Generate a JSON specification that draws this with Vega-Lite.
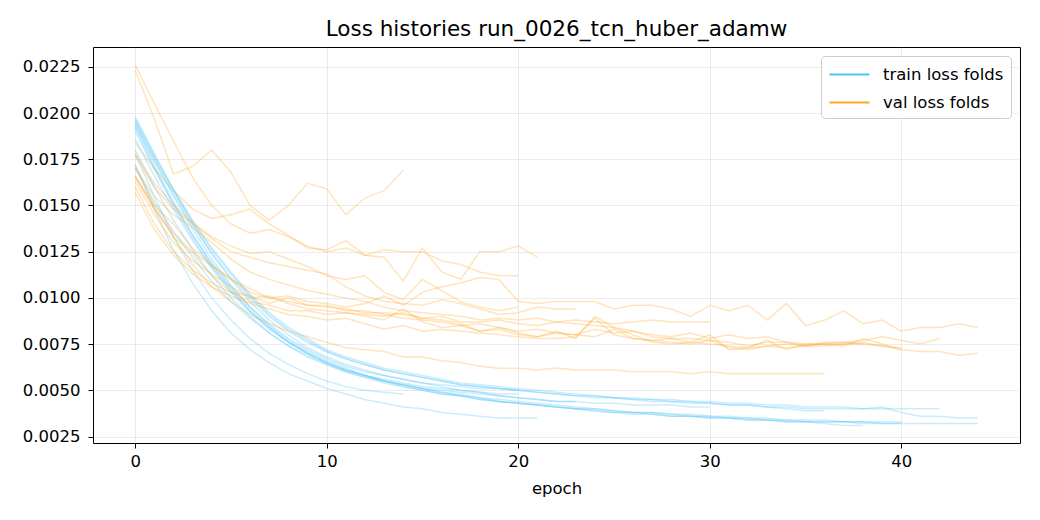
{
"$schema":"https://vega.github.io/schema/vega-lite/v6.json",
"width":927,"height":396,
"autosize":{"type":"none"},
"padding":{"left":93,"top":47,"right":20,"bottom":77},
"background":"white",
"title":{"text":"Loss histories run_0026_tcn_huber_adamw","font":"DejaVu Sans","fontSize":21.5,"fontWeight":"normal","color":"black","offset":7},
"config":{"view":{"stroke":"black","strokeWidth":1},
"axis":{"labelFont":"DejaVu Sans","labelFontSize":16.5,"labelColor":"black","tickColor":"black","tickSize":5,"tickWidth":1,"domain":false,"grid":true,"gridColor":"#b0b0b0","gridOpacity":0.3,"gridWidth":0.8,"titleFont":"DejaVu Sans","titleFontSize":16.5,"titleFontWeight":"normal","titleColor":"black"}},
"data":{"values":[
{"fold":1,"epoch":0,"train":0.0178,"val":0.0223},{"fold":1,"epoch":1,"train":0.0155,"val":0.0197},{"fold":1,"epoch":2,"train":0.0133,"val":0.0167},{"fold":1,"epoch":3,"train":0.0115,"val":0.0171},{"fold":1,"epoch":4,"train":0.0100,"val":0.0180},{"fold":1,"epoch":5,"train":0.0088,"val":0.0168},{"fold":1,"epoch":6,"train":0.0078,"val":0.0150},{"fold":1,"epoch":7,"train":0.0070,"val":0.0142},{"fold":1,"epoch":8,"train":0.0064,"val":0.0150},{"fold":1,"epoch":9,"train":0.0059,"val":0.0162},{"fold":1,"epoch":10,"train":0.0055,"val":0.0159},{"fold":1,"epoch":11,"train":0.0052,"val":0.0145},{"fold":1,"epoch":12,"train":0.0050,"val":0.0154},{"fold":1,"epoch":13,"train":0.0049,"val":0.0158},{"fold":1,"epoch":14,"train":0.0048,"val":0.0169},
{"fold":2,"epoch":0,"train":0.0172,"val":0.0226},{"fold":2,"epoch":1,"train":0.0148,"val":0.0205},{"fold":2,"epoch":2,"train":0.0126,"val":0.0185},{"fold":2,"epoch":3,"train":0.0108,"val":0.0165},{"fold":2,"epoch":4,"train":0.0093,"val":0.0150},{"fold":2,"epoch":5,"train":0.0081,"val":0.0140},{"fold":2,"epoch":6,"train":0.0072,"val":0.0135},{"fold":2,"epoch":7,"train":0.0065,"val":0.0137},{"fold":2,"epoch":8,"train":0.0059,"val":0.0133},{"fold":2,"epoch":9,"train":0.0055,"val":0.0128},{"fold":2,"epoch":10,"train":0.0051,"val":0.0125},{"fold":2,"epoch":11,"train":0.0048,"val":0.0127},{"fold":2,"epoch":12,"train":0.0045,"val":0.0123},{"fold":2,"epoch":13,"train":0.0043,"val":0.0122},{"fold":2,"epoch":14,"train":0.0041,"val":0.0109},{"fold":2,"epoch":15,"train":0.0040,"val":0.0127},{"fold":2,"epoch":16,"train":0.0038,"val":0.0114},{"fold":2,"epoch":17,"train":0.0037,"val":0.0110},{"fold":2,"epoch":18,"train":0.0036,"val":0.0125},{"fold":2,"epoch":19,"train":0.0035,"val":0.0125},{"fold":2,"epoch":20,"train":0.0035,"val":0.0128},{"fold":2,"epoch":21,"train":0.0035,"val":0.0122},
{"fold":3,"epoch":0,"train":0.0190,"val":0.0184},{"fold":3,"epoch":1,"train":0.0170,"val":0.0170},{"fold":3,"epoch":2,"train":0.0151,"val":0.0158},{"fold":3,"epoch":3,"train":0.0134,"val":0.0148},{"fold":3,"epoch":4,"train":0.0119,"val":0.0143},{"fold":3,"epoch":5,"train":0.0106,"val":0.0145},{"fold":3,"epoch":6,"train":0.0095,"val":0.0148},{"fold":3,"epoch":7,"train":0.0086,"val":0.0140},{"fold":3,"epoch":8,"train":0.0078,"val":0.0134},{"fold":3,"epoch":9,"train":0.0072,"val":0.0127},{"fold":3,"epoch":10,"train":0.0067,"val":0.0126},{"fold":3,"epoch":11,"train":0.0063,"val":0.0131},{"fold":3,"epoch":12,"train":0.0060,"val":0.0123},{"fold":3,"epoch":13,"train":0.0058,"val":0.0126},{"fold":3,"epoch":14,"train":0.0056,"val":0.0125},{"fold":3,"epoch":15,"train":0.0054,"val":0.0125},{"fold":3,"epoch":16,"train":0.0053,"val":0.0120},{"fold":3,"epoch":17,"train":0.0052,"val":0.0118},{"fold":3,"epoch":18,"train":0.0051,"val":0.0114},{"fold":3,"epoch":19,"train":0.0051,"val":0.0112},{"fold":3,"epoch":20,"train":0.0050,"val":0.0112},
{"fold":4,"epoch":0,"train":0.0197,"val":0.0177},{"fold":4,"epoch":1,"train":0.0177,"val":0.0160},{"fold":4,"epoch":2,"train":0.0158,"val":0.0148},{"fold":4,"epoch":3,"train":0.0140,"val":0.0140},{"fold":4,"epoch":4,"train":0.0124,"val":0.0132},{"fold":4,"epoch":5,"train":0.0110,"val":0.0125},{"fold":4,"epoch":6,"train":0.0098,"val":0.0122},{"fold":4,"epoch":7,"train":0.0088,"val":0.0119},{"fold":4,"epoch":8,"train":0.0080,"val":0.0117},{"fold":4,"epoch":9,"train":0.0073,"val":0.0115},{"fold":4,"epoch":10,"train":0.0068,"val":0.0113},{"fold":4,"epoch":11,"train":0.0064,"val":0.0106},{"fold":4,"epoch":12,"train":0.0061,"val":0.0101},{"fold":4,"epoch":13,"train":0.0058,"val":0.0098},{"fold":4,"epoch":14,"train":0.0056,"val":0.0097},{"fold":4,"epoch":15,"train":0.0054,"val":0.0096},{"fold":4,"epoch":16,"train":0.0052,"val":0.0099},{"fold":4,"epoch":17,"train":0.0050,"val":0.0097},{"fold":4,"epoch":18,"train":0.0049,"val":0.0094},{"fold":4,"epoch":19,"train":0.0047,"val":0.0091},{"fold":4,"epoch":20,"train":0.0046,"val":0.0092},{"fold":4,"epoch":21,"train":0.0045,"val":0.0095},{"fold":4,"epoch":22,"train":0.0044,"val":0.0094},{"fold":4,"epoch":23,"train":0.0044,"val":0.0094},
{"fold":5,"epoch":0,"train":0.0193,"val":0.0172},{"fold":5,"epoch":1,"train":0.0174,"val":0.0150},{"fold":5,"epoch":2,"train":0.0156,"val":0.0133},{"fold":5,"epoch":3,"train":0.0139,"val":0.0118},{"fold":5,"epoch":4,"train":0.0124,"val":0.0106},{"fold":5,"epoch":5,"train":0.0111,"val":0.0098},{"fold":5,"epoch":6,"train":0.0100,"val":0.0091},{"fold":5,"epoch":7,"train":0.0090,"val":0.0086},{"fold":5,"epoch":8,"train":0.0082,"val":0.0082},{"fold":5,"epoch":9,"train":0.0076,"val":0.0079},{"fold":5,"epoch":10,"train":0.0071,"val":0.0076},{"fold":5,"epoch":11,"train":0.0067,"val":0.0073},{"fold":5,"epoch":12,"train":0.0064,"val":0.0072},{"fold":5,"epoch":13,"train":0.0061,"val":0.0071},{"fold":5,"epoch":14,"train":0.0059,"val":0.0068},{"fold":5,"epoch":15,"train":0.0057,"val":0.0068},{"fold":5,"epoch":16,"train":0.0055,"val":0.0066},{"fold":5,"epoch":17,"train":0.0053,"val":0.0065},{"fold":5,"epoch":18,"train":0.0052,"val":0.0063},{"fold":5,"epoch":19,"train":0.0051,"val":0.0062},{"fold":5,"epoch":20,"train":0.0050,"val":0.0062},{"fold":5,"epoch":21,"train":0.0049,"val":0.0061},{"fold":5,"epoch":22,"train":0.0048,"val":0.0062},{"fold":5,"epoch":23,"train":0.0047,"val":0.0061},{"fold":5,"epoch":24,"train":0.0047,"val":0.0061},{"fold":5,"epoch":25,"train":0.0046,"val":0.0061},{"fold":5,"epoch":26,"train":0.0045,"val":0.0060},{"fold":5,"epoch":27,"train":0.0045,"val":0.0060},{"fold":5,"epoch":28,"train":0.0044,"val":0.0060},{"fold":5,"epoch":29,"train":0.0044,"val":0.0059},{"fold":5,"epoch":30,"train":0.0043,"val":0.0060},{"fold":5,"epoch":31,"train":0.0042,"val":0.0059},{"fold":5,"epoch":32,"train":0.0042,"val":0.0059},{"fold":5,"epoch":33,"train":0.0041,"val":0.0059},{"fold":5,"epoch":34,"train":0.0040,"val":0.0059},{"fold":5,"epoch":35,"train":0.0039,"val":0.0059},{"fold":5,"epoch":36,"train":0.0039,"val":0.0059},
{"fold":6,"epoch":0,"train":0.0196,"val":0.0163},{"fold":6,"epoch":1,"train":0.0175,"val":0.0145},{"fold":6,"epoch":2,"train":0.0155,"val":0.0130},{"fold":6,"epoch":3,"train":0.0137,"val":0.0120},{"fold":6,"epoch":4,"train":0.0121,"val":0.0113},{"fold":6,"epoch":5,"train":0.0107,"val":0.0106},{"fold":6,"epoch":6,"train":0.0095,"val":0.0100},{"fold":6,"epoch":7,"train":0.0085,"val":0.0101},{"fold":6,"epoch":8,"train":0.0077,"val":0.0097},{"fold":6,"epoch":9,"train":0.0071,"val":0.0094},{"fold":6,"epoch":10,"train":0.0066,"val":0.0093},{"fold":6,"epoch":11,"train":0.0062,"val":0.0092},{"fold":6,"epoch":12,"train":0.0058,"val":0.0091},{"fold":6,"epoch":13,"train":0.0055,"val":0.0090},{"fold":6,"epoch":14,"train":0.0053,"val":0.0092},{"fold":6,"epoch":15,"train":0.0051,"val":0.0089},{"fold":6,"epoch":16,"train":0.0049,"val":0.0088},{"fold":6,"epoch":17,"train":0.0047,"val":0.0086},{"fold":6,"epoch":18,"train":0.0046,"val":0.0082},{"fold":6,"epoch":19,"train":0.0044,"val":0.0083},{"fold":6,"epoch":20,"train":0.0043,"val":0.0080},{"fold":6,"epoch":21,"train":0.0042,"val":0.0079},{"fold":6,"epoch":22,"train":0.0041,"val":0.0081},{"fold":6,"epoch":23,"train":0.0040,"val":0.0080},{"fold":6,"epoch":24,"train":0.0039,"val":0.0083},{"fold":6,"epoch":25,"train":0.0038,"val":0.0081},{"fold":6,"epoch":26,"train":0.0038,"val":0.0082},{"fold":6,"epoch":27,"train":0.0037,"val":0.0079},{"fold":6,"epoch":28,"train":0.0036,"val":0.0078},{"fold":6,"epoch":29,"train":0.0036,"val":0.0078},{"fold":6,"epoch":30,"train":0.0035,"val":0.0077},{"fold":6,"epoch":31,"train":0.0035,"val":0.0076},{"fold":6,"epoch":32,"train":0.0034,"val":0.0074},{"fold":6,"epoch":33,"train":0.0034,"val":0.0076},{"fold":6,"epoch":34,"train":0.0033,"val":0.0076},{"fold":6,"epoch":35,"train":0.0033,"val":0.0075},{"fold":6,"epoch":36,"train":0.0032,"val":0.0075},{"fold":6,"epoch":37,"train":0.0031,"val":0.0076},{"fold":6,"epoch":38,"train":0.0031,"val":0.0075},
{"fold":7,"epoch":0,"train":0.0194,"val":0.0160},{"fold":7,"epoch":1,"train":0.0172,"val":0.0140},{"fold":7,"epoch":2,"train":0.0152,"val":0.0125},{"fold":7,"epoch":3,"train":0.0134,"val":0.0115},{"fold":7,"epoch":4,"train":0.0118,"val":0.0108},{"fold":7,"epoch":5,"train":0.0105,"val":0.0103},{"fold":7,"epoch":6,"train":0.0093,"val":0.0101},{"fold":7,"epoch":7,"train":0.0084,"val":0.0097},{"fold":7,"epoch":8,"train":0.0076,"val":0.0100},{"fold":7,"epoch":9,"train":0.0070,"val":0.0096},{"fold":7,"epoch":10,"train":0.0065,"val":0.0096},{"fold":7,"epoch":11,"train":0.0061,"val":0.0093},{"fold":7,"epoch":12,"train":0.0058,"val":0.0093},{"fold":7,"epoch":13,"train":0.0055,"val":0.0091},{"fold":7,"epoch":14,"train":0.0053,"val":0.0089},{"fold":7,"epoch":15,"train":0.0051,"val":0.0088},{"fold":7,"epoch":16,"train":0.0049,"val":0.0087},{"fold":7,"epoch":17,"train":0.0048,"val":0.0085},{"fold":7,"epoch":18,"train":0.0046,"val":0.0086},{"fold":7,"epoch":19,"train":0.0045,"val":0.0084},{"fold":7,"epoch":20,"train":0.0044,"val":0.0082},{"fold":7,"epoch":21,"train":0.0043,"val":0.0083},{"fold":7,"epoch":22,"train":0.0042,"val":0.0081},{"fold":7,"epoch":23,"train":0.0041,"val":0.0080},{"fold":7,"epoch":24,"train":0.0040,"val":0.0079},{"fold":7,"epoch":25,"train":0.0039,"val":0.0083},{"fold":7,"epoch":26,"train":0.0038,"val":0.0078},{"fold":7,"epoch":27,"train":0.0038,"val":0.0077},{"fold":7,"epoch":28,"train":0.0037,"val":0.0076},{"fold":7,"epoch":29,"train":0.0036,"val":0.0075},{"fold":7,"epoch":30,"train":0.0036,"val":0.0077},{"fold":7,"epoch":31,"train":0.0035,"val":0.0073},{"fold":7,"epoch":32,"train":0.0035,"val":0.0072},{"fold":7,"epoch":33,"train":0.0034,"val":0.0074},{"fold":7,"epoch":34,"train":0.0034,"val":0.0073},{"fold":7,"epoch":35,"train":0.0033,"val":0.0074},{"fold":7,"epoch":36,"train":0.0033,"val":0.0075},{"fold":7,"epoch":37,"train":0.0033,"val":0.0075},{"fold":7,"epoch":38,"train":0.0032,"val":0.0076},{"fold":7,"epoch":39,"train":0.0032,"val":0.0074},{"fold":7,"epoch":40,"train":0.0032,"val":0.0073},
{"fold":8,"epoch":0,"train":0.0198,"val":0.0166},{"fold":8,"epoch":1,"train":0.0178,"val":0.0148},{"fold":8,"epoch":2,"train":0.0159,"val":0.0135},{"fold":8,"epoch":3,"train":0.0142,"val":0.0125},{"fold":8,"epoch":4,"train":0.0127,"val":0.0117},{"fold":8,"epoch":5,"train":0.0114,"val":0.0110},{"fold":8,"epoch":6,"train":0.0102,"val":0.0105},{"fold":8,"epoch":7,"train":0.0092,"val":0.0100},{"fold":8,"epoch":8,"train":0.0084,"val":0.0098},{"fold":8,"epoch":9,"train":0.0078,"val":0.0096},{"fold":8,"epoch":10,"train":0.0072,"val":0.0095},{"fold":8,"epoch":11,"train":0.0068,"val":0.0094},{"fold":8,"epoch":12,"train":0.0065,"val":0.0092},{"fold":8,"epoch":13,"train":0.0062,"val":0.0092},{"fold":8,"epoch":14,"train":0.0060,"val":0.0091},{"fold":8,"epoch":15,"train":0.0058,"val":0.0089},{"fold":8,"epoch":16,"train":0.0056,"val":0.0090},{"fold":8,"epoch":17,"train":0.0054,"val":0.0087},{"fold":8,"epoch":18,"train":0.0053,"val":0.0087},{"fold":8,"epoch":19,"train":0.0052,"val":0.0088},{"fold":8,"epoch":20,"train":0.0051,"val":0.0086},{"fold":8,"epoch":21,"train":0.0050,"val":0.0085},{"fold":8,"epoch":22,"train":0.0049,"val":0.0087},{"fold":8,"epoch":23,"train":0.0048,"val":0.0086},{"fold":8,"epoch":24,"train":0.0047,"val":0.0085},{"fold":8,"epoch":25,"train":0.0046,"val":0.0084},{"fold":8,"epoch":26,"train":0.0046,"val":0.0082},{"fold":8,"epoch":27,"train":0.0045,"val":0.0080},{"fold":8,"epoch":28,"train":0.0045,"val":0.0079},{"fold":8,"epoch":29,"train":0.0044,"val":0.0081},{"fold":8,"epoch":30,"train":0.0044,"val":0.0078},{"fold":8,"epoch":31,"train":0.0043,"val":0.0080},{"fold":8,"epoch":32,"train":0.0043,"val":0.0078},{"fold":8,"epoch":33,"train":0.0042,"val":0.0079},{"fold":8,"epoch":34,"train":0.0042,"val":0.0076},{"fold":8,"epoch":35,"train":0.0041,"val":0.0074},{"fold":8,"epoch":36,"train":0.0041,"val":0.0076},{"fold":8,"epoch":37,"train":0.0041,"val":0.0076},{"fold":8,"epoch":38,"train":0.0040,"val":0.0077},{"fold":8,"epoch":39,"train":0.0040,"val":0.0079},{"fold":8,"epoch":40,"train":0.0040,"val":0.0077},{"fold":8,"epoch":41,"train":0.0040,"val":0.0075},{"fold":8,"epoch":42,"train":0.0040,"val":0.0078},
{"fold":9,"epoch":0,"train":0.0195,"val":0.0166},{"fold":9,"epoch":1,"train":0.0176,"val":0.0150},{"fold":9,"epoch":2,"train":0.0158,"val":0.0140},{"fold":9,"epoch":3,"train":0.0141,"val":0.0127},{"fold":9,"epoch":4,"train":0.0126,"val":0.0118},{"fold":9,"epoch":5,"train":0.0113,"val":0.0110},{"fold":9,"epoch":6,"train":0.0101,"val":0.0103},{"fold":9,"epoch":7,"train":0.0091,"val":0.0100},{"fold":9,"epoch":8,"train":0.0083,"val":0.0101},{"fold":9,"epoch":9,"train":0.0077,"val":0.0098},{"fold":9,"epoch":10,"train":0.0071,"val":0.0097},{"fold":9,"epoch":11,"train":0.0067,"val":0.0095},{"fold":9,"epoch":12,"train":0.0064,"val":0.0097},{"fold":9,"epoch":13,"train":0.0061,"val":0.0101},{"fold":9,"epoch":14,"train":0.0059,"val":0.0096},{"fold":9,"epoch":15,"train":0.0057,"val":0.0103},{"fold":9,"epoch":16,"train":0.0055,"val":0.0106},{"fold":9,"epoch":17,"train":0.0053,"val":0.0108},{"fold":9,"epoch":18,"train":0.0052,"val":0.0111},{"fold":9,"epoch":19,"train":0.0051,"val":0.0110},{"fold":9,"epoch":20,"train":0.0050,"val":0.0098},{"fold":9,"epoch":21,"train":0.0049,"val":0.0097},{"fold":9,"epoch":22,"train":0.0048,"val":0.0098},{"fold":9,"epoch":23,"train":0.0047,"val":0.0098},{"fold":9,"epoch":24,"train":0.0046,"val":0.0098},{"fold":9,"epoch":25,"train":0.0046,"val":0.0094},{"fold":9,"epoch":26,"train":0.0045,"val":0.0096},{"fold":9,"epoch":27,"train":0.0044,"val":0.0096},{"fold":9,"epoch":28,"train":0.0044,"val":0.0094},{"fold":9,"epoch":29,"train":0.0043,"val":0.0090},{"fold":9,"epoch":30,"train":0.0043,"val":0.0096},{"fold":9,"epoch":31,"train":0.0042,"val":0.0093},{"fold":9,"epoch":32,"train":0.0042,"val":0.0096},{"fold":9,"epoch":33,"train":0.0041,"val":0.0088},{"fold":9,"epoch":34,"train":0.0041,"val":0.0097},{"fold":9,"epoch":35,"train":0.0040,"val":0.0085},{"fold":9,"epoch":36,"train":0.0040,"val":0.0088},{"fold":9,"epoch":37,"train":0.0040,"val":0.0093},{"fold":9,"epoch":38,"train":0.0040,"val":0.0086},{"fold":9,"epoch":39,"train":0.0041,"val":0.0088},{"fold":9,"epoch":40,"train":0.0038,"val":0.0082},{"fold":9,"epoch":41,"train":0.0036,"val":0.0084},{"fold":9,"epoch":42,"train":0.0036,"val":0.0084},{"fold":9,"epoch":43,"train":0.0035,"val":0.0086},{"fold":9,"epoch":44,"train":0.0035,"val":0.0084},
{"fold":10,"epoch":0,"train":0.0192,"val":0.0157},{"fold":10,"epoch":1,"train":0.0170,"val":0.0137},{"fold":10,"epoch":2,"train":0.0150,"val":0.0123},{"fold":10,"epoch":3,"train":0.0132,"val":0.0113},{"fold":10,"epoch":4,"train":0.0117,"val":0.0106},{"fold":10,"epoch":5,"train":0.0104,"val":0.0101},{"fold":10,"epoch":6,"train":0.0093,"val":0.0097},{"fold":10,"epoch":7,"train":0.0084,"val":0.0094},{"fold":10,"epoch":8,"train":0.0076,"val":0.0091},{"fold":10,"epoch":9,"train":0.0070,"val":0.0090},{"fold":10,"epoch":10,"train":0.0065,"val":0.0088},{"fold":10,"epoch":11,"train":0.0061,"val":0.0089},{"fold":10,"epoch":12,"train":0.0058,"val":0.0086},{"fold":10,"epoch":13,"train":0.0055,"val":0.0083},{"fold":10,"epoch":14,"train":0.0052,"val":0.0085},{"fold":10,"epoch":15,"train":0.0050,"val":0.0082},{"fold":10,"epoch":16,"train":0.0048,"val":0.0083},{"fold":10,"epoch":17,"train":0.0047,"val":0.0082},{"fold":10,"epoch":18,"train":0.0045,"val":0.0081},{"fold":10,"epoch":19,"train":0.0044,"val":0.0080},{"fold":10,"epoch":20,"train":0.0043,"val":0.0079},{"fold":10,"epoch":21,"train":0.0042,"val":0.0078},{"fold":10,"epoch":22,"train":0.0041,"val":0.0078},{"fold":10,"epoch":23,"train":0.0040,"val":0.0079},{"fold":10,"epoch":24,"train":0.0039,"val":0.0089},{"fold":10,"epoch":25,"train":0.0038,"val":0.0080},{"fold":10,"epoch":26,"train":0.0037,"val":0.0078},{"fold":10,"epoch":27,"train":0.0037,"val":0.0077},{"fold":10,"epoch":28,"train":0.0036,"val":0.0078},{"fold":10,"epoch":29,"train":0.0036,"val":0.0076},{"fold":10,"epoch":30,"train":0.0035,"val":0.0075},{"fold":10,"epoch":31,"train":0.0035,"val":0.0074},{"fold":10,"epoch":32,"train":0.0034,"val":0.0073},{"fold":10,"epoch":33,"train":0.0034,"val":0.0074},{"fold":10,"epoch":34,"train":0.0033,"val":0.0075},{"fold":10,"epoch":35,"train":0.0033,"val":0.0074},{"fold":10,"epoch":36,"train":0.0033,"val":0.0074},{"fold":10,"epoch":37,"train":0.0033,"val":0.0075},{"fold":10,"epoch":38,"train":0.0033,"val":0.0075},{"fold":10,"epoch":39,"train":0.0032,"val":0.0074},{"fold":10,"epoch":40,"train":0.0032,"val":0.0072},{"fold":10,"epoch":41,"train":0.0032,"val":0.0071},{"fold":10,"epoch":42,"train":0.0032,"val":0.0071},{"fold":10,"epoch":43,"train":0.0032,"val":0.0069},{"fold":10,"epoch":44,"train":0.0032,"val":0.0070},
{"fold":11,"epoch":0,"train":0.0180,"val":0.0170},{"fold":11,"epoch":1,"train":0.0160,"val":0.0155},{"fold":11,"epoch":2,"train":0.0142,"val":0.0145},{"fold":11,"epoch":3,"train":0.0126,"val":0.0138},{"fold":11,"epoch":4,"train":0.0112,"val":0.0130},{"fold":11,"epoch":5,"train":0.0100,"val":0.0121},{"fold":11,"epoch":6,"train":0.0090,"val":0.0114},{"fold":11,"epoch":7,"train":0.0081,"val":0.0110},{"fold":11,"epoch":8,"train":0.0074,"val":0.0107},{"fold":11,"epoch":9,"train":0.0068,"val":0.0104},{"fold":11,"epoch":10,"train":0.0064,"val":0.0102},{"fold":11,"epoch":11,"train":0.0060,"val":0.0100},{"fold":11,"epoch":12,"train":0.0057,"val":0.0098},{"fold":11,"epoch":13,"train":0.0055,"val":0.0095},{"fold":11,"epoch":14,"train":0.0053,"val":0.0093},{"fold":11,"epoch":15,"train":0.0051,"val":0.0092},{"fold":11,"epoch":16,"train":0.0050,"val":0.0091},{"fold":11,"epoch":17,"train":0.0049,"val":0.0090},{"fold":11,"epoch":18,"train":0.0048,"val":0.0088},{"fold":11,"epoch":19,"train":0.0047,"val":0.0089},{"fold":11,"epoch":20,"train":0.0046,"val":0.0088},{"fold":11,"epoch":21,"train":0.0045,"val":0.0089},{"fold":11,"epoch":22,"train":0.0044,"val":0.0087},{"fold":11,"epoch":23,"train":0.0044,"val":0.0088},{"fold":11,"epoch":24,"train":0.0043,"val":0.0087},{"fold":11,"epoch":25,"train":0.0043,"val":0.0086},{"fold":11,"epoch":26,"train":0.0042,"val":0.0087},{"fold":11,"epoch":27,"train":0.0042,"val":0.0088},{"fold":11,"epoch":28,"train":0.0042,"val":0.0087},{"fold":11,"epoch":29,"train":0.0041,"val":0.0087},{"fold":11,"epoch":30,"train":0.0041,"val":0.0087},
{"fold":12,"epoch":0,"train":0.0170,"val":0.0165},{"fold":12,"epoch":1,"train":0.0152,"val":0.0148},{"fold":12,"epoch":2,"train":0.0136,"val":0.0133},{"fold":12,"epoch":3,"train":0.0122,"val":0.0124},{"fold":12,"epoch":4,"train":0.0109,"val":0.0112},{"fold":12,"epoch":5,"train":0.0098,"val":0.0103},{"fold":12,"epoch":6,"train":0.0089,"val":0.0098},{"fold":12,"epoch":7,"train":0.0081,"val":0.0096},{"fold":12,"epoch":8,"train":0.0074,"val":0.0093},{"fold":12,"epoch":9,"train":0.0069,"val":0.0093},{"fold":12,"epoch":10,"train":0.0064,"val":0.0091},{"fold":12,"epoch":11,"train":0.0060,"val":0.0092},{"fold":12,"epoch":12,"train":0.0057,"val":0.0090},{"fold":12,"epoch":13,"train":0.0054,"val":0.0088},{"fold":12,"epoch":14,"train":0.0052,"val":0.0094},{"fold":12,"epoch":15,"train":0.0050,"val":0.0087},{"fold":12,"epoch":16,"train":0.0048,"val":0.0084},{"fold":12,"epoch":17,"train":0.0047,"val":0.0085},{"fold":12,"epoch":18,"train":0.0045,"val":0.0082},{"fold":12,"epoch":19,"train":0.0044,"val":0.0084},{"fold":12,"epoch":20,"train":0.0043,"val":0.0081},{"fold":12,"epoch":21,"train":0.0042,"val":0.0079},{"fold":12,"epoch":22,"train":0.0041,"val":0.0082},{"fold":12,"epoch":23,"train":0.0040,"val":0.0078},{"fold":12,"epoch":24,"train":0.0040,"val":0.0090},{"fold":12,"epoch":25,"train":0.0039,"val":0.0084},{"fold":12,"epoch":26,"train":0.0038,"val":0.0080},{"fold":12,"epoch":27,"train":0.0038,"val":0.0076},{"fold":12,"epoch":28,"train":0.0037,"val":0.0075},{"fold":12,"epoch":29,"train":0.0037,"val":0.0076},{"fold":12,"epoch":30,"train":0.0036,"val":0.0080},{"fold":12,"epoch":31,"train":0.0036,"val":0.0072},{"fold":12,"epoch":32,"train":0.0035,"val":0.0073},{"fold":12,"epoch":33,"train":0.0035,"val":0.0077},{"fold":12,"epoch":34,"train":0.0034,"val":0.0072},{"fold":12,"epoch":35,"train":0.0034,"val":0.0075},{"fold":12,"epoch":36,"train":0.0034,"val":0.0075},{"fold":12,"epoch":37,"train":0.0033,"val":0.0074},{"fold":12,"epoch":38,"train":0.0033,"val":0.0078},{"fold":12,"epoch":39,"train":0.0033,"val":0.0075},{"fold":12,"epoch":40,"train":0.0033,"val":0.0072},
{"fold":13,"epoch":0,"train":0.0186,"val":0.0178},{"fold":13,"epoch":1,"train":0.0166,"val":0.0162},{"fold":13,"epoch":2,"train":0.0148,"val":0.0150},{"fold":13,"epoch":3,"train":0.0131,"val":0.0141},{"fold":13,"epoch":4,"train":0.0116,"val":0.0133},{"fold":13,"epoch":5,"train":0.0103,"val":0.0128},{"fold":13,"epoch":6,"train":0.0092,"val":0.0124},{"fold":13,"epoch":7,"train":0.0083,"val":0.0125},{"fold":13,"epoch":8,"train":0.0076,"val":0.0121},{"fold":13,"epoch":9,"train":0.0070,"val":0.0117},{"fold":13,"epoch":10,"train":0.0065,"val":0.0112},{"fold":13,"epoch":11,"train":0.0061,"val":0.0110},{"fold":13,"epoch":12,"train":0.0058,"val":0.0112},{"fold":13,"epoch":13,"train":0.0056,"val":0.0103},{"fold":13,"epoch":14,"train":0.0054,"val":0.0099},{"fold":13,"epoch":15,"train":0.0052,"val":0.0110},{"fold":13,"epoch":16,"train":0.0051,"val":0.0104},{"fold":13,"epoch":17,"train":0.0050,"val":0.0098},{"fold":13,"epoch":18,"train":0.0049,"val":0.0095},{"fold":13,"epoch":19,"train":0.0048,"val":0.0093},{"fold":13,"epoch":20,"train":0.0048,"val":0.0095}
]},
"transform":[{"fold":["train","val"],"as":["set","loss"]}],
"mark":{"type":"line","strokeWidth":1.5,"opacity":0.3},
"encoding":{
"x":{"field":"epoch","type":"quantitative","scale":{"domain":[-2.2,46.2],"nice":false,"zero":false},"axis":{"values":[0,10,20,30,40],"title":"epoch","labelPadding":5,"titlePadding":11}},
"y":{"field":"loss","type":"quantitative","scale":{"domain":[0.00215,0.02357],"nice":false,"zero":false},"axis":{"values":[0.0025,0.005,0.0075,0.01,0.0125,0.015,0.0175,0.02,0.0225],"format":".4f","title":null,"labelPadding":8}},
"color":{"field":"set","type":"nominal","scale":{"domain":["train","val"],"range":["#4fc3f7","#ffa726"]},
"legend":{"title":null,"orient":"top-right","offset":9,"symbolType":"M-1,0L3,0","symbolSize":400,"symbolStrokeWidth":2.2,"symbolOpacity":1,"labelFont":"DejaVu Sans","labelFontSize":16.5,"labelColor":"black","fillColor":"white","strokeColor":"#cccccc","cornerRadius":4,"padding":7,"rowPadding":8,"labelOffset":32,"labelExpr":"datum.label == 'train' ? 'train loss folds' : 'val loss folds'"}},
"detail":{"field":"fold","type":"nominal"}
}
}
